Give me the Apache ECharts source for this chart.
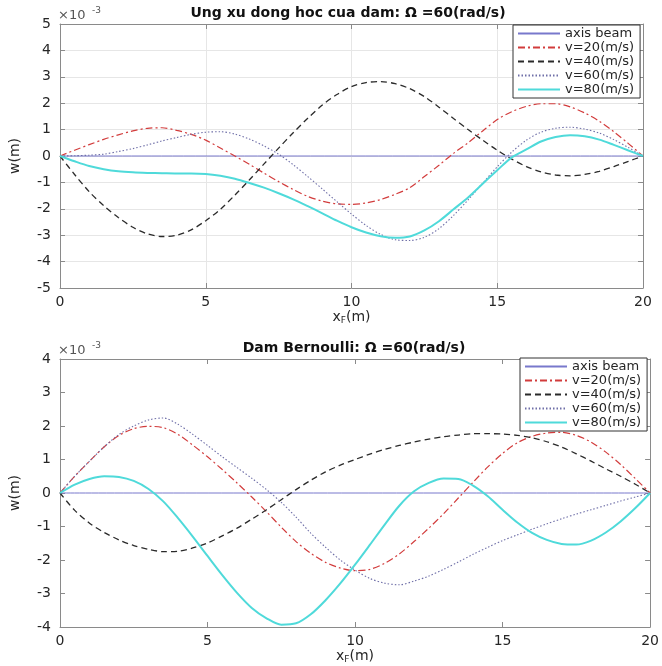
<!DOCTYPE html>
<html>
<head>
<meta charset="utf-8">
<script src="https://cdn.jsdelivr.net/npm/echarts@6/dist/echarts.min.js"></script>
<style>
html,body{margin:0;padding:0;background:#fff;}
#chart{width:662px;height:666px;}
</style>
</head>
<body>
<div id="chart"></div>
<script>
// x positions (m)
var xs = [0,0.5,1,1.5,2,2.5,3,3.5,4,4.5,5,5.5,6,6.5,7,7.5,8,8.5,9,9.5,10,10.5,11,11.5,12,12.5,13,13.5,14,14.5,15,15.5,16,16.5,17,17.5,18,18.5,19,19.5,20];
var beamX = [0, 20];
var beamY = [0, 0];
var seriesNames = ['axis beam', 'v=20(m/s)', 'v=40(m/s)', 'v=60(m/s)', 'v=80(m/s)'];

// Top: Ung xu dong hoc cua dam (values x 1e-3 m)
var topV20 = [0,0.22,0.43,0.63,0.8,0.95,1.05,1.07,0.97,0.82,0.6,0.3,0.0,-0.32,-0.65,-0.97,-1.27,-1.53,-1.71,-1.81,-1.83,-1.78,-1.65,-1.45,-1.2,-0.78,-0.35,0.1,0.5,0.95,1.38,1.68,1.88,1.98,1.98,1.86,1.63,1.32,0.92,0.47,0];
var topV40 = [0,-0.7,-1.35,-1.88,-2.33,-2.7,-2.95,-3.05,-3.0,-2.8,-2.45,-2.02,-1.48,-0.9,-0.3,0.3,0.88,1.43,1.93,2.33,2.63,2.78,2.82,2.74,2.55,2.25,1.85,1.42,1.0,0.6,0.22,-0.12,-0.4,-0.6,-0.72,-0.75,-0.7,-0.58,-0.4,-0.2,0];
var topV60 = [0,0.01,0.03,0.07,0.17,0.28,0.42,0.57,0.7,0.82,0.9,0.92,0.83,0.64,0.38,0.07,-0.33,-0.78,-1.25,-1.73,-2.2,-2.63,-2.97,-3.17,-3.2,-3.08,-2.75,-2.25,-1.66,-1.03,-0.41,0.15,0.6,0.9,1.05,1.09,1.02,0.87,0.62,0.32,0];
var topV80 = [0,-0.2,-0.38,-0.5,-0.58,-0.62,-0.64,-0.65,-0.66,-0.66,-0.68,-0.75,-0.86,-1.02,-1.2,-1.41,-1.64,-1.9,-2.17,-2.45,-2.7,-2.9,-3.04,-3.1,-3.05,-2.82,-2.47,-2.02,-1.57,-1.05,-0.54,-0.05,0.25,0.55,0.72,0.79,0.75,0.62,0.42,0.21,0];

// Bottom: Dam Bernoulli (values x 1e-3 m)
var botV20 = [0,0.5,0.95,1.38,1.72,1.92,1.99,1.95,1.75,1.43,1.08,0.7,0.3,-0.12,-0.56,-1.02,-1.45,-1.8,-2.07,-2.24,-2.32,-2.28,-2.1,-1.82,-1.45,-1.05,-0.62,-0.15,0.32,0.78,1.18,1.5,1.69,1.79,1.81,1.72,1.52,1.22,0.85,0.43,0];
var botV40 = [0,-0.52,-0.9,-1.18,-1.4,-1.57,-1.68,-1.75,-1.74,-1.64,-1.49,-1.28,-1.05,-0.78,-0.5,-0.2,0.1,0.38,0.63,0.83,1.0,1.16,1.3,1.42,1.52,1.61,1.68,1.73,1.77,1.77,1.76,1.72,1.65,1.53,1.37,1.17,0.95,0.72,0.5,0.26,0];
var botV60 = [0,0.5,0.95,1.38,1.75,2.0,2.18,2.24,2.05,1.75,1.42,1.08,0.76,0.44,0.1,-0.28,-0.72,-1.2,-1.62,-2.0,-2.3,-2.55,-2.69,-2.74,-2.63,-2.48,-2.28,-2.06,-1.83,-1.62,-1.42,-1.25,-1.08,-0.92,-0.77,-0.63,-0.5,-0.37,-0.24,-0.12,0];
var botV80 = [0,0.25,0.42,0.5,0.48,0.36,0.12,-0.25,-0.75,-1.3,-1.88,-2.45,-2.98,-3.43,-3.74,-3.93,-3.89,-3.62,-3.2,-2.7,-2.14,-1.55,-0.95,-0.38,0.05,0.3,0.43,0.42,0.22,-0.1,-0.5,-0.88,-1.19,-1.4,-1.52,-1.54,-1.42,-1.18,-0.85,-0.45,0];

var FONT = 'DejaVu Sans';
var AX = '#8a8a8a';
var TXT = '#262626';

function pairs(x, y){ return x.map(function(v,i){ return [v, y[i]]; }); }

var styles = [
  {color:'#7878cc', width:1, type:'solid'},
  {color:'#d23c3c', width:1.2, type:[7,3,2,3]},
  {color:'#2a2a2a', width:1.3, type:[6,4]},
  {color:'#6f6fa8', width:1.1, type:[1.5,2]},
  {color:'#4fdada', width:2, type:'solid'}
];

function mkSeries(gi, data){
  return data.map(function(d, k){
    return {
      name: seriesNames[k], type:'line', xAxisIndex: gi*2, yAxisIndex: gi*2,
      data: d, showSymbol:false, symbol:'none', smooth:0.3, animation:false,
      z: k===0 ? 1 : 2+k,
      lineStyle:{color:styles[k].color, width:styles[k].width, type:styles[k].type},
      itemStyle:{color:styles[k].color}
    };
  });
}

var topData = [pairs(beamX,beamY), pairs(xs,topV20), pairs(xs,topV40), pairs(xs,topV60), pairs(xs,topV80)];
var botData = [pairs(beamX,beamY), pairs(xs,botV20), pairs(xs,botV40), pairs(xs,botV60), pairs(xs,botV80)];

function xAx(gi, pos, labels, split){
  return {
    type:'value', gridIndex: gi, position: pos, min:0, max:20, interval:5,
    axisLine:{show:true, onZero:false, lineStyle:{color:AX, width:1}},
    axisTick:{show:true, inside:true, length:5, lineStyle:{color:AX}},
    axisLabel:{show:labels, color:TXT, fontFamily:FONT, fontSize:14, margin:7},
    splitLine:{show:split, lineStyle:{color:'#e6e6e6', width:1}},
    name: labels ? '{a|x}{b|F}{a|(m)}' : '',
    nameLocation:'middle', nameGap:19,
    nameTextStyle:{rich:{a:{fontFamily:FONT, fontSize:14, color:TXT}, b:{fontFamily:FONT, fontSize:9, color:TXT, padding:[8,0,0,0]}}}
  };
}
function yAx(gi, pos, labels, split, mn, mx){
  return {
    type:'value', gridIndex: gi, position: pos, min:mn, max:mx, interval:1,
    axisLine:{show:true, onZero:false, lineStyle:{color:AX, width:1}},
    axisTick:{show:true, inside:true, length:5, lineStyle:{color:AX}},
    axisLabel:{show:labels, color:TXT, fontFamily:FONT, fontSize:14, margin:9},
    splitLine:{show:split, lineStyle:{color:'#e6e6e6', width:1}},
    name: labels ? 'w(m)' : '', nameLocation:'middle', nameGap:38,
    nameTextStyle:{fontFamily:FONT, fontSize:14, color:TXT}
  };
}
function legend(left, top){
  return {
    data: seriesNames, orient:'vertical', left:left, top:top,
    itemWidth:42, itemHeight:12, itemGap:1, padding:[2,6,2,4],
    backgroundColor:'#fff', borderColor:'#333', borderWidth:1, borderRadius:0,
    selectedMode:false,
    itemStyle:{color:'rgba(0,0,0,0)', borderWidth:0, opacity:0},
    textStyle:{fontFamily:FONT, fontSize:13, color:TXT, padding:[0,0,0,0]}
  };
}

var option = {
  animation:false,
  backgroundColor:'#fff',
  grid:[
    {left:57, top:24, width:586, height:264},
    {left:56, top:359, width:597, height:268}
  ],
  xAxis:[ xAx(0,'bottom',true,true), xAx(0,'top',false,false), xAx(1,'bottom',true,false), xAx(1,'top',false,false) ],
  yAxis:[ yAx(0,'left',true,true,-5,5), yAx(0,'right',false,false,-5,5), yAx(1,'left',true,false,-4,4), yAx(1,'right',false,false,-4,4) ],
  legend:[ legend(513, 25), legend(520, 358) ],
  series: mkSeries(0, topData).concat(mkSeries(1, botData)),
  graphic:[
    {type:'text', x:348, y:6, style:{text:'Ung xu dong hoc cua dam: \u03A9 =60(rad/s)', font:'bold 14px "DejaVu Sans"', fill:'#111', textAlign:'center'}},
    {type:'text', x:354, y:341, style:{text:'Dam Bernoulli: \u03A9 =60(rad/s)', font:'bold 14px "DejaVu Sans"', fill:'#111', textAlign:'center'}},
    {type:'text', x:58, y:9, style:{text:'\u00D710', font:'13px "DejaVu Sans"', fill:'#555'}},
    {type:'text', x:92, y:6, style:{text:'-3', font:'9px "DejaVu Sans"', fill:'#555'}},
    {type:'text', x:58, y:344, style:{text:'\u00D710', font:'13px "DejaVu Sans"', fill:'#555'}},
    {type:'text', x:92, y:341, style:{text:'-3', font:'9px "DejaVu Sans"', fill:'#555'}}
  ]
};

var chart = echarts.init(document.getElementById('chart'), null, {renderer:'canvas'});
chart.setOption(option);
</script>
</body>
</html>
